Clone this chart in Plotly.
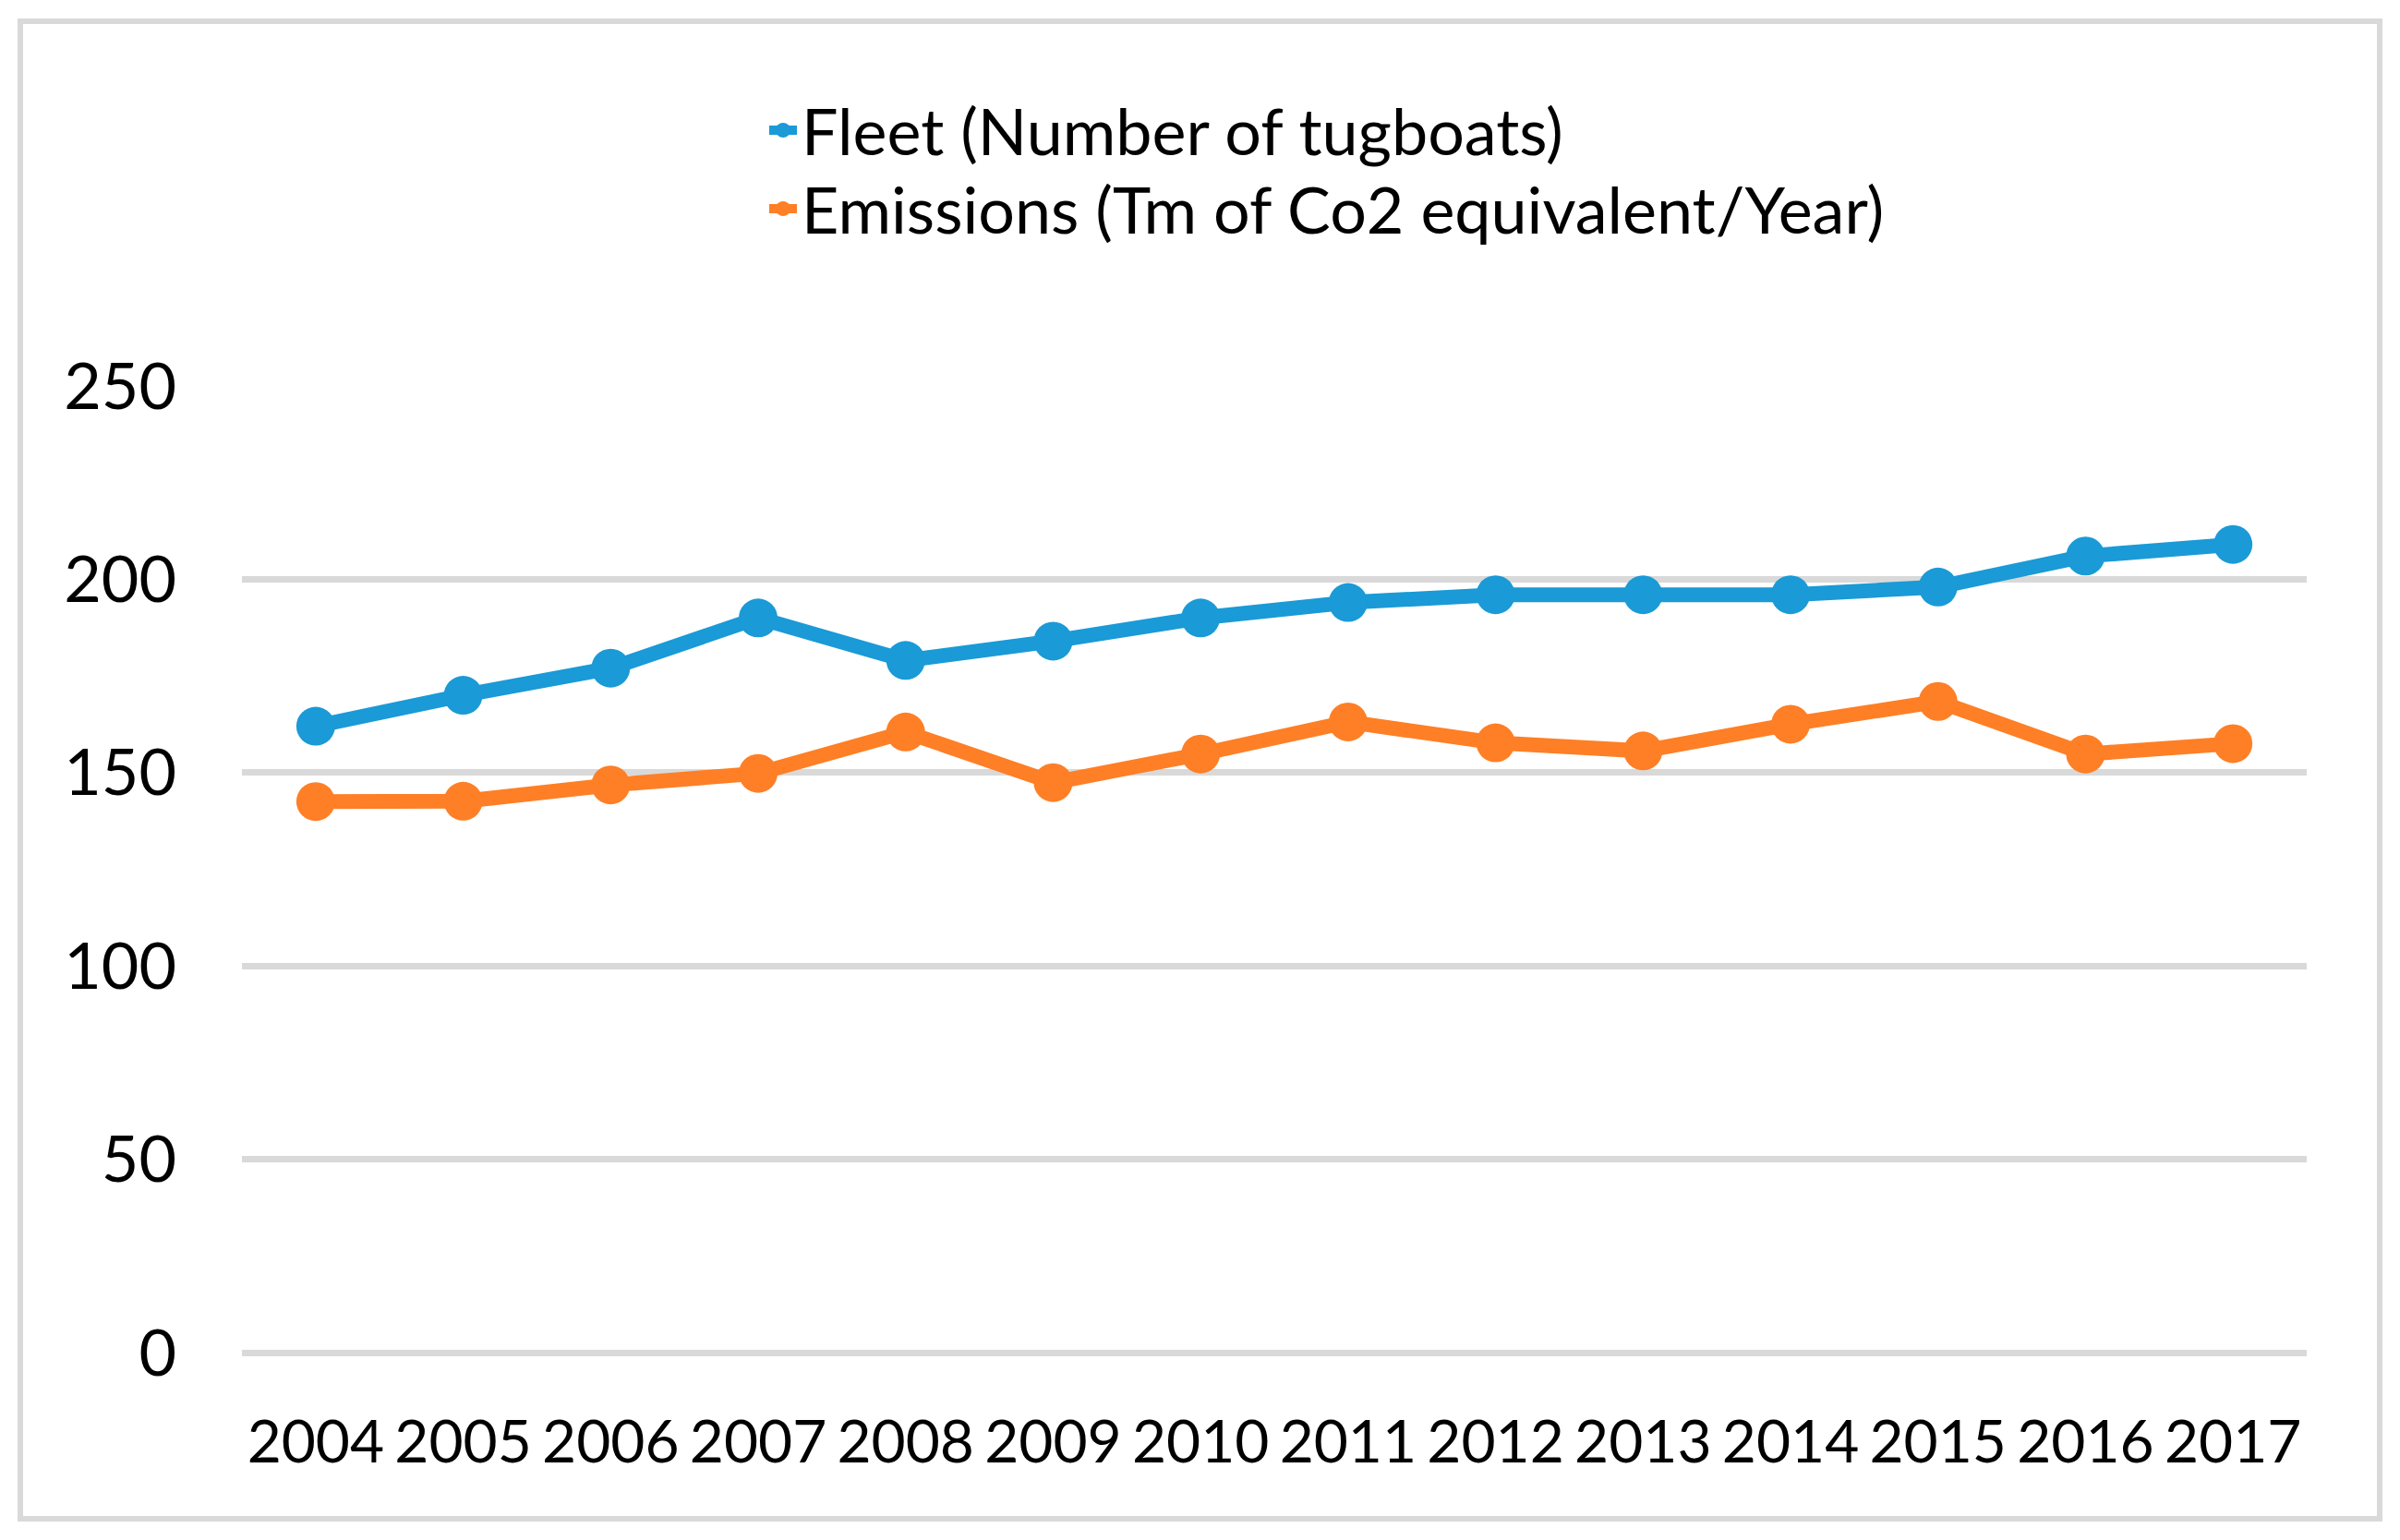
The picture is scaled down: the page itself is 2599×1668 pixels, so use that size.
import plotly.graph_objects as go

years = ["2004", "2005", "2006", "2007", "2008", "2009", "2010",
         "2011", "2012", "2013", "2014", "2015", "2016", "2017"]
fleet = [162, 170, 177, 190, 179, 184, 190, 194, 196, 196, 196, 198, 206, 209]
emissions = [142.5, 142.6, 146.8, 149.8, 160.5, 147.4, 154.8,
             163.1, 157.7, 155.6, 162.5, 168.4, 154.8, 157.5]
fleet_name = "Fleet (Number of tugboats)"
emis_name = "Emissions (Tm of Co2 equivalent/Year)"
y_ticks = [0, 50, 100, 150, 200, 250]

BLUE = "#1A9AD6"
ORANGE = "#FE7F26"
GRID = "#D9D9D9"
FONT = "Lato"

fig = go.Figure()
fig.add_trace(go.Scatter(x=years, y=fleet, name=fleet_name, mode="lines+markers",
                         line=dict(color=BLUE, width=16),
                         marker=dict(color=BLUE, size=42), legend="legend"))
fig.add_trace(go.Scatter(x=years, y=emissions, name=emis_name, mode="lines+markers",
                         line=dict(color=ORANGE, width=16),
                         marker=dict(color=ORANGE, size=42), legend="legend2"))

W, H = 2599, 1668
L, R, T, B = 262, 101, 418, 203
pw, ph = W - L - R, H - T - B

def px(x):
    return (x - L) / pw

def py(y):
    return (H - B - y) / ph

legend_font = dict(family=FONT, size=70, color="black")

fig.update_layout(
    width=W, height=H,
    margin=dict(l=L, r=R, t=T, b=B, pad=0),
    paper_bgcolor="white", plot_bgcolor="white",
    font=dict(family=FONT, color="black"),
    showlegend=True,
    legend=dict(x=px(828), y=py(141), xanchor="left", yanchor="middle",
                font=legend_font, bgcolor="rgba(0,0,0,0)"),
    legend2=dict(x=px(828), y=py(226), xanchor="left", yanchor="middle",
                 font=legend_font, bgcolor="rgba(0,0,0,0)"),
    xaxis=dict(type="category", range=[-0.5, 13.5], showgrid=False,
               showline=False, zeroline=False, ticks="", tickangle=0,
               tickfont=dict(family=FONT, size=64, color="black"),
               ticklabelstandoff=54),
    yaxis=dict(range=[0, 250], tickvals=y_ticks, showgrid=True,
               gridcolor=GRID, gridwidth=6.5, zeroline=True,
               zerolinecolor=GRID, zerolinewidth=6.5, showline=False,
               ticks="", tickfont=dict(family=FONT, size=70, color="black"),
               ticklabelstandoff=70),
    shapes=[dict(type="rect", xref="paper", yref="paper",
                 x0=px(22), x1=px(2577), y0=py(23), y1=py(1645),
                 line=dict(color=GRID, width=6), layer="below")],
)

fig.write_html("out.html", config={"displayModeBar": False})
with open("out.html", "r", encoding="utf-8") as f:
    html = f.read()
html = html.replace("<body>", '<body style="margin:0;padding:0;overflow:hidden">', 1)
with open("out.html", "w", encoding="utf-8") as f:
    f.write(html)
